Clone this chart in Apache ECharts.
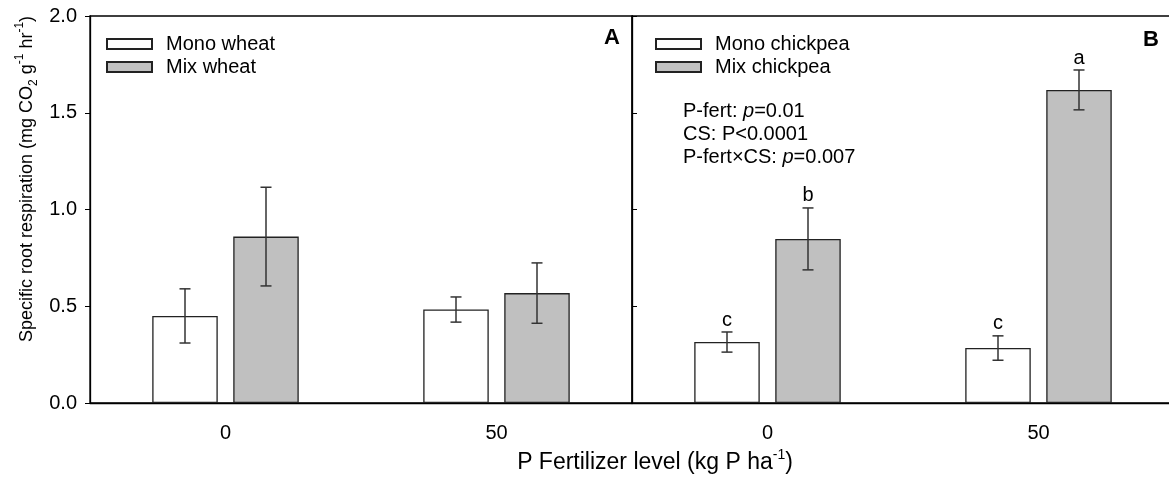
<!DOCTYPE html>
<html>
<head>
<meta charset="utf-8">
<script src="https://cdn.jsdelivr.net/npm/echarts@6/dist/echarts.min.js"></script>
<style>html,body{margin:0;padding:0;background:#fff;overflow:hidden;width:1169px;height:479px;}#c{width:1180px;height:479px;}</style>
</head>
<body>
<div id="c"></div>
<script>
// ---- data ----
const categories = ['0', '50'];
const monoWheat = [0.45, 0.483];
const monoWheatErr = [0.14, 0.065];
const mixWheat = [0.86, 0.568];
const mixWheatErr = [0.255, 0.156];
const monoChickpea = [0.315, 0.284];
const monoChickpeaErr = [0.052, 0.063];
const mixChickpea = [0.848, 1.618];
const mixChickpeaErr = [0.16, 0.103];
const monoChickpeaLetters = ['c', 'c'];
const mixChickpeaLetters = ['b', 'a'];

// ---- style ----
const FONT = '"Liberation Sans", Arial, sans-serif';
const BAR_W = 65.5, BAR_GAP = 15.5;
const OFF = (BAR_W + BAR_GAP) / 2;
const GRAY = '#c0c0c0';
const EDGE = '#222';

const chart = echarts.init(document.getElementById('c'), null, {renderer: 'canvas'});

function barSeries(name, data, idx, fill) {
  return {
    type: 'bar', name: name, data: data,
    xAxisIndex: idx, yAxisIndex: idx,
    barWidth: BAR_W, barGap: (BAR_GAP / BAR_W * 100) + '%',
    itemStyle: {color: fill, borderColor: EDGE, borderWidth: 1.3},
    emphasis: {disabled: true}, silent: true, z: 2
  };
}

function errSeries(vals, errs, idx, side, letters) {
  const data = vals.map((v, i) => [i, v, errs[i]]);
  return {
    type: 'custom', name: 'err', xAxisIndex: idx, yAxisIndex: idx, z: 5, silent: true,
    data: data,
    renderItem: function (params, api) {
      const i = api.value(0), v = api.value(1), e = api.value(2);
      const top = api.coord([i, v + e]);
      const bot = api.coord([i, v - e]);
      const x = top[0] + side * OFF;
      const cap = 5.5;
      const ls = {stroke: '#333', lineWidth: 1.5};
      const children = [
        {type: 'line', shape: {x1: x, y1: top[1], x2: x, y2: bot[1]}, style: ls},
        {type: 'line', shape: {x1: x - cap, y1: top[1], x2: x + cap, y2: top[1]}, style: ls},
        {type: 'line', shape: {x1: x - cap, y1: bot[1], x2: x + cap, y2: bot[1]}, style: ls}
      ];
      if (letters) {
        children.push({type: 'text', x: x, y: top[1] - 2,
          style: {text: letters[params.dataIndex], fill: '#000', font: '20px ' + FONT,
            textAlign: 'center', textVerticalAlign: 'bottom'}});
      }
      return {type: 'group', children: children};
    }
  };
}

function xAxis(idx) {
  return {
    type: 'category', gridIndex: idx, data: categories, boundaryGap: true,
    axisLine: {lineStyle: {color: '#000', width: 1.3}},
    axisTick: {alignWithLabel: true, length: 5, lineStyle: {color: '#000'}},
    axisLabel: {margin: 20, color: '#000', fontSize: 20, fontFamily: FONT}
  };
}
function yAxis(idx, showLabels) {
  return {
    type: 'value', gridIndex: idx, min: 0, max: 2, interval: 0.5,
    splitLine: {show: false},
    axisLine: {show: true, lineStyle: {color: '#000', width: 1.3}},
    axisTick: {show: true, length: 5, inside: !showLabels, lineStyle: {color: '#000'}},
    axisLabel: {show: showLabels, margin: 13, color: '#000', fontSize: 20, fontFamily: FONT,
      formatter: v => v.toFixed(1)}
  };
}

const legendCommon = {
  orient: 'vertical', icon: 'rect', itemWidth: 45, itemHeight: 10, itemGap: 3,
  textStyle: {fontSize: 20, fontFamily: FONT, color: '#000', padding: [0, 0, 0, 9]},
  selectedMode: false
};

const option = {
  animation: false,
  backgroundColor: '#fff',
  grid: [
    {left: 90, top: 16, width: 542, height: 387, show: true, borderColor: '#000', borderWidth: 1.3, backgroundColor: 'transparent'},
    {left: 632, top: 16, width: 542, height: 387, show: true, borderColor: '#000', borderWidth: 1.3, backgroundColor: 'transparent'}
  ],
  xAxis: [xAxis(0), xAxis(1)],
  yAxis: [yAxis(0, true), yAxis(1, false)],
  legend: [
    Object.assign({left: 101, top: 29, data: ['Mono wheat', 'Mix wheat']}, legendCommon),
    Object.assign({left: 650, top: 29, data: ['Mono chickpea', 'Mix chickpea']}, legendCommon)
  ],
  series: [
    barSeries('Mono wheat', monoWheat, 0, '#ffffff'),
    barSeries('Mix wheat', mixWheat, 0, GRAY),
    barSeries('Mono chickpea', monoChickpea, 1, '#ffffff'),
    barSeries('Mix chickpea', mixChickpea, 1, GRAY),
    errSeries(monoWheat, monoWheatErr, 0, -1, null),
    errSeries(mixWheat, mixWheatErr, 0, 1, null),
    errSeries(monoChickpea, monoChickpeaErr, 1, -1, monoChickpeaLetters),
    errSeries(mixChickpea, mixChickpeaErr, 1, 1, mixChickpeaLetters)
  ],
  graphic: [
    {type: 'text', x: 612, y: 38, style: {text: 'A', font: 'bold 22px ' + FONT, fill: '#000', textAlign: 'center', textVerticalAlign: 'middle'}},
    {type: 'text', x: 1151, y: 40, style: {text: 'B', font: 'bold 22px ' + FONT, fill: '#000', textAlign: 'center', textVerticalAlign: 'middle'}},
    {type: 'text', left: 683, top: 100,
      style: {
        text: 'P-fert: {i|p}=0.01\nCS: P<0.0001\nP-fert×CS: {i|p}=0.007',
        font: '20px ' + FONT, fill: '#000', lineHeight: 23,
        rich: {i: {fontStyle: 'italic', fontSize: 20, fontFamily: FONT, lineHeight: 23}}
      }},
    {type: 'text', x: 27, y: 179, rotation: Math.PI / 2,
      style: {
        text: 'Specific root respiration (mg CO{sub|2} g{sup|-1} hr{sup|-1})',
        font: '18px ' + FONT, fill: '#000', textAlign: 'center', textVerticalAlign: 'middle',
        lineHeight: 26,
        rich: {
          sub: {fontSize: 12, fontFamily: FONT, lineHeight: 12, verticalAlign: 'bottom'},
          sup: {fontSize: 12, fontFamily: FONT, lineHeight: 12, verticalAlign: 'top'}
        }
      }},
    {type: 'text', x: 655, y: 463,
      style: {
        text: 'P Fertilizer level (kg P ha{sup|-1})',
        font: '23px ' + FONT, fill: '#000', textAlign: 'center', textVerticalAlign: 'middle',
        lineHeight: 30,
        rich: {sup: {fontSize: 14, fontFamily: FONT, lineHeight: 14, verticalAlign: 'top'}}
      }}
  ]
};
chart.setOption(option);
</script>
</body>
</html>
